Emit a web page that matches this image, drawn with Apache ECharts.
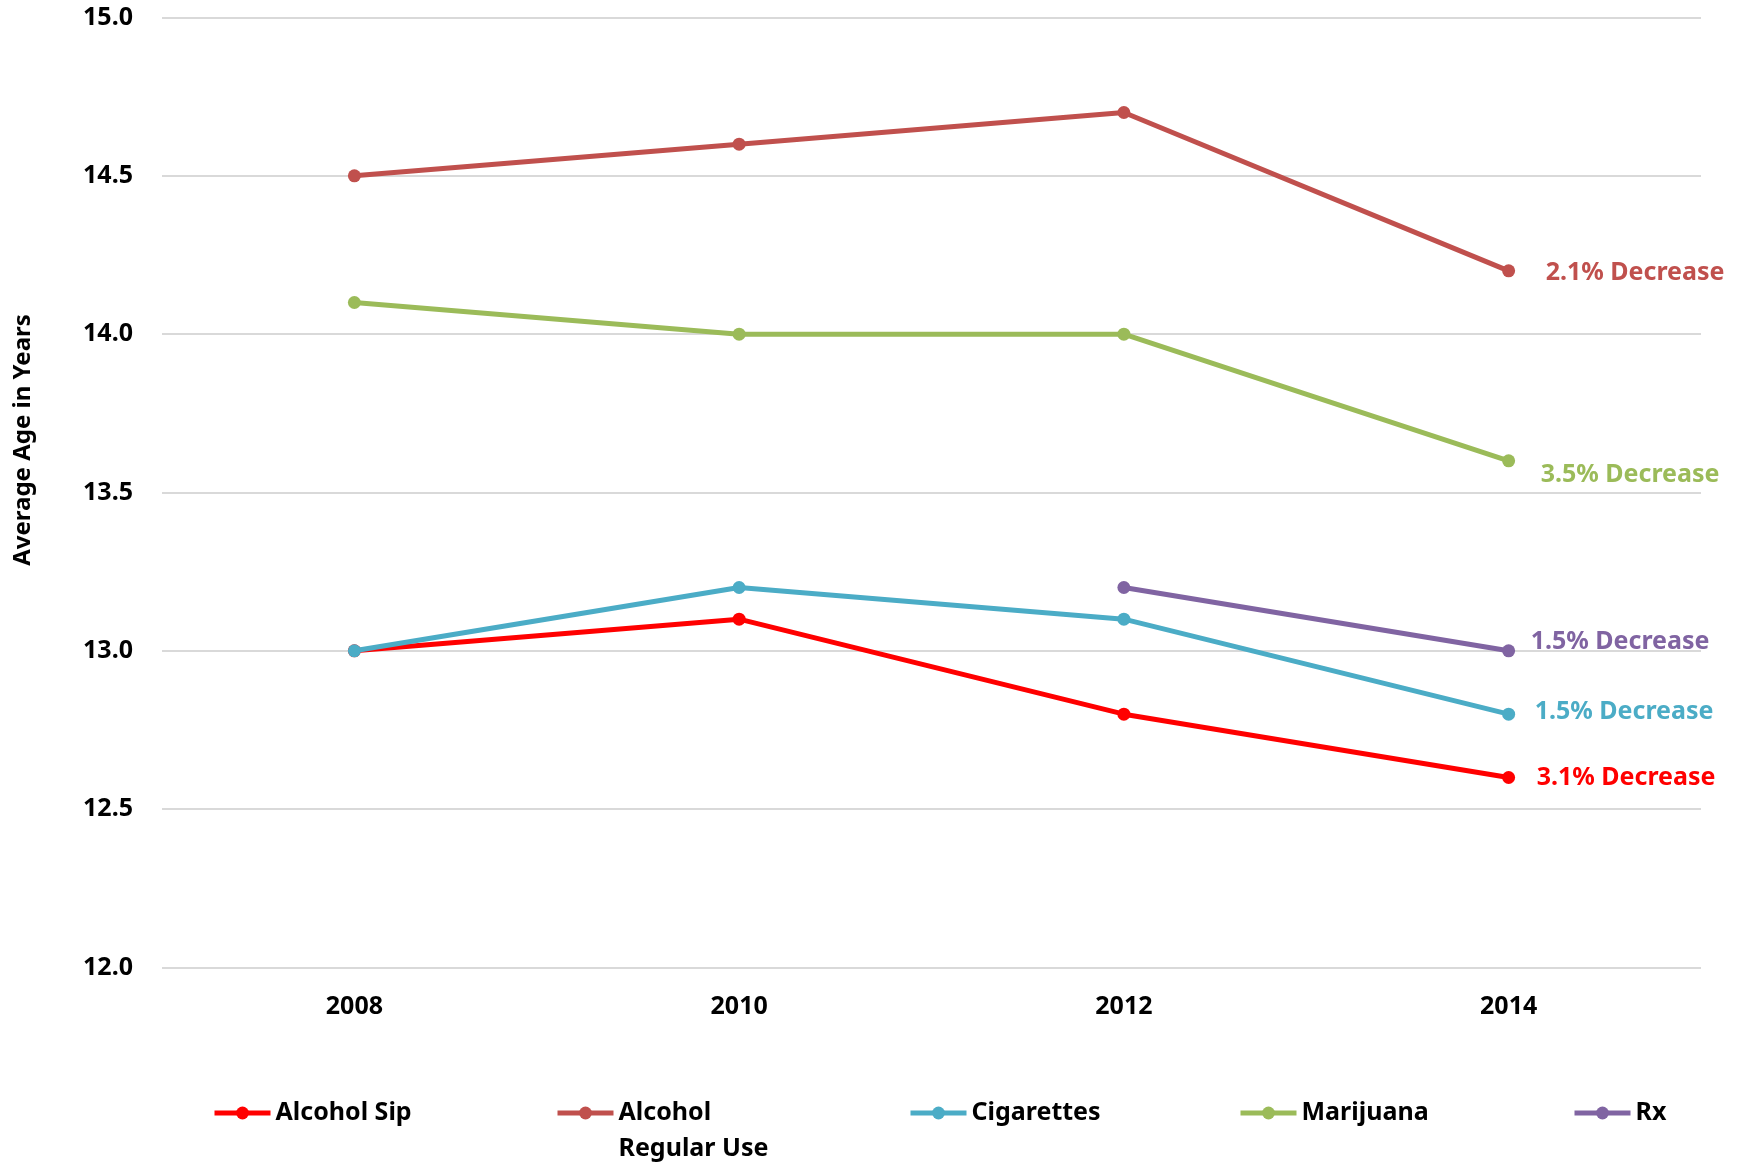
<!DOCTYPE html>
<html>
<head>
<meta charset="utf-8">
<script src="https://cdn.jsdelivr.net/npm/echarts@6/dist/echarts.min.js"></script>
<style>
html,body{margin:0;padding:0;background:#fff;}
#chart{width:1741px;height:1166px;}
</style>
</head>
<body>
<div id="chart"></div>
<script>
const years = ['2008', '2010', '2012', '2014'];
const alcoholSip = [13.0, 13.1, 12.8, 12.6];
const alcoholRegular = [14.5, 14.6, 14.7, 14.2];
const cigarettes = [13.0, 13.2, 13.1, 12.8];
const marijuana = [14.1, 14.0, 14.0, 13.6];
const rx = [null, null, 13.2, 13.0];
const seriesNames = ['Alcohol Sip', 'Alcohol Regular Use', 'Cigarettes', 'Marijuana', 'Rx'];
const legendLabels = ['Alcohol Sip', 'Alcohol\nRegular Use', 'Cigarettes', 'Marijuana', 'Rx'];
const endNotes = ['3.1% Decrease', '2.1% Decrease', '1.5% Decrease', '3.5% Decrease', '1.5% Decrease'];
const yMin = 12.0, yMax = 15.0, yStep = 0.5;

const colors = ['#FF0000', '#C0504D', '#4BACC6', '#9BBB59', '#8064A2'];
const values = [alcoholSip, alcoholRegular, cigarettes, marijuana, rx];
const noteOffsets = [[28, 0], [37, 2], [26, -2], [32, 14], [22, -9]];
const legendLeft = [212, 555, 908, 1238, 1572];
const FONT = 'Noto Sans';

const chart = echarts.init(document.getElementById('chart'));

const series = seriesNames.map((name, i) => ({
  name: name,
  type: 'line',
  data: values[i],
  symbol: 'circle',
  symbolSize: 13,
  connectNulls: false,
  lineStyle: { color: colors[i], width: 5 },
  itemStyle: { color: colors[i] },
  z: 2 + i,
  endLabel: {
    show: true,
    formatter: endNotes[i],
    color: colors[i],
    fontFamily: FONT,
    fontWeight: 'bold',
    fontSize: 25,
    distance: 0,
    offset: noteOffsets[i]
  },
  animation: false
}));

const legends = seriesNames.map((name, i) => {
  const twoLine = legendLabels[i].indexOf('\n') >= 0;
  return {
    data: [name],
    left: legendLeft[i],
    top: twoLine ? 1113 - 54 : 1113 - 18,
    padding: 0,
    itemWidth: 56,
    itemHeight: 16,
    itemGap: 0,
    lineStyle: { width: 5 },
    formatter: () => (twoLine ? '{e|}\n{t|' + legendLabels[i].split('\n').join('}\n{t|') + '}' : legendLabels[i]),
    textStyle: {
      fontFamily: FONT,
      fontWeight: 'bold',
      fontSize: 25,
      color: '#000',
      lineHeight: 36,
      rich: {
        e: { fontFamily: FONT, fontSize: 25, lineHeight: 36 },
        t: { fontFamily: FONT, fontWeight: 'bold', fontSize: 25, lineHeight: 36, color: '#000' }
      }
    }
  };
});

chart.setOption({
  animation: false,
  backgroundColor: '#fff',
  grid: { left: 162, right: 40, top: 17.5, bottom: 198.5 },
  xAxis: {
    type: 'category',
    data: years,
    boundaryGap: true,
    axisLine: { show: false },
    axisTick: { show: false },
    axisLabel: {
      fontFamily: FONT, fontWeight: 'bold', fontSize: 25, color: '#000', margin: 27
    }
  },
  yAxis: {
    type: 'value',
    min: yMin, max: yMax, interval: yStep,
    axisLine: { show: false },
    axisTick: { show: false },
    splitLine: { lineStyle: { color: '#d9d9d9', width: 2 } },
    axisLabel: {
      fontFamily: FONT, fontWeight: 'bold', fontSize: 25, color: '#000', margin: 29,
      formatter: v => v.toFixed(1)
    }
  },
  legend: legends,
  graphic: [{
    type: 'text',
    x: 23, y: 440,
    rotation: Math.PI / 2,
    style: {
      text: 'Average Age in Years',
      fontFamily: FONT, fontWeight: 'bold', fontSize: 24, fill: '#000',
      align: 'center', verticalAlign: 'middle'
    }
  }],
  series: series
});
</script>
</body>
</html>
